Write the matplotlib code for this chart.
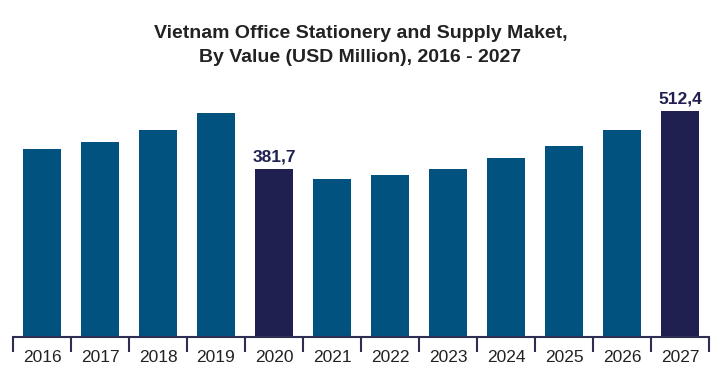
import numpy as np
import matplotlib.pyplot as plt

# data
years = ["2016", "2017", "2018", "2019", "2020", "2021",
         "2022", "2023", "2024", "2025", "2026", "2027"]
values = [427, 443, 470, 509, 381.7, 359, 368, 381, 406, 434, 470, 512.4]
highlight = ["2020", "2027"]
labels = {"2020": "381,7", "2027": "512,4"}

blue = "#02527F"
navy = "#1F1F50"
axis_col = "#2E2E52"

plt.rcParams["font.family"] = ["Liberation Sans", "DejaVu Sans"]

fig = plt.figure(figsize=(7.25, 3.76), dpi=100)
ax = fig.add_axes([13 / 725, 39 / 376, 696 / 725, 247 / 376])

x = np.arange(len(years))
colors = [navy if y in highlight else blue for y in years]
bars = ax.bar(x, values, width=0.66, color=colors)

for b, y in zip(bars, years):
    if y in labels:
        ax.text(b.get_x() + b.get_width() / 2, b.get_height() + 10, labels[y],
                ha="center", va="bottom", fontsize=12.5, fontweight="bold", color=navy)

ax.set_xlim(-0.5, len(years) - 0.5)
ax.set_ylim(0, 561)

# ticks at category boundaries, labels at centres
ax.set_xticks(np.arange(-0.5, len(years), 1.0))
ax.set_xticklabels([])
ax.set_xticks(x, minor=True)
ax.set_xticklabels(years, minor=True, fontsize=12.5, color="#222222")
ax.tick_params(axis="x", which="major", length=11, width=1.5, color=axis_col, direction="out")
ax.tick_params(axis="x", which="minor", length=0, pad=9)
ax.set_yticks([])

for s in ["top", "right", "left"]:
    ax.spines[s].set_visible(False)
ax.spines["bottom"].set_color(axis_col)
ax.spines["bottom"].set_linewidth(1.5)

fig.text(0.497, 1 - 33 / 376, "Vietnam Office Stationery and Supply Maket,",
         ha="center", va="center", fontsize=14, fontweight="bold", color="#222222")
fig.text(0.497, 1 - 57 / 376, "By Value (USD Million), 2016 - 2027",
         ha="center", va="center", fontsize=14, fontweight="bold", color="#222222")

fig.savefig("out.png", dpi=100)
